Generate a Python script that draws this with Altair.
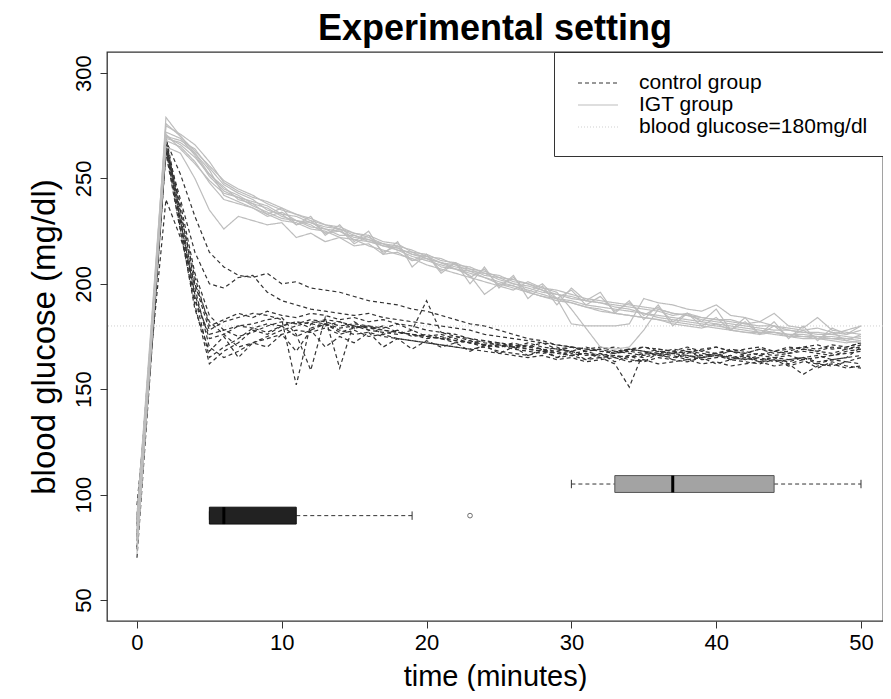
import altair as alt
import pandas as pd

# ---------------- data ----------------
minutes = list(range(0, 51))

control_series = [
    [85, 176, 268, 252, 232, 215, 208, 204, 203, 205,
     200, 201, 198, 197, 196, 194, 192, 191, 190, 188,
     187, 185, 183, 181, 180, 178, 176, 174, 173, 171,
     170, 169, 170, 168, 169, 170, 168, 167, 169, 168,
     170, 168, 167, 169, 168, 170, 169, 168, 170, 169,
     171],
    [80, 172, 265, 240, 215, 200, 198, 203, 204, 196,
     192, 190, 188, 187, 186, 185, 186, 184, 183, 182,
     181, 180, 179, 178, 176, 175, 174, 173, 172, 171,
     170, 169, 168, 168, 167, 166, 168, 167, 166, 165,
     166, 165, 164, 166, 165, 164, 165, 166, 164, 165,
     166],
    [75, 168, 262, 225, 190, 162, 168, 172, 178, 176,
     180, 182, 179, 181, 178, 176, 177, 175, 174, 173,
     172, 171, 170, 169, 170, 168, 167, 166, 168, 165,
     166, 164, 165, 166, 164, 163, 165, 164, 163, 165,
     162, 164, 163, 162, 164, 161, 163, 162, 161, 163,
     162],
    [90, 178, 270, 235, 200, 178, 182, 184, 186, 185,
     183, 152, 181, 183, 182, 180, 179, 178, 177, 176,
     175, 174, 173, 172, 170, 171, 169, 168, 167, 168,
     166, 167, 165, 166, 165, 167, 166, 165, 166, 164,
     165, 166, 164, 165, 163, 164, 165, 163, 164, 165,
     170],
    [78, 170, 266, 230, 195, 174, 176, 180, 181, 183,
     184, 176, 159, 184, 160, 182, 178, 180, 177, 176,
     174, 175, 173, 172, 171, 170, 171, 169, 168, 170,
     167, 168, 166, 167, 169, 168, 166, 167, 168, 166,
     167, 168, 166, 167, 166, 167, 168, 167, 166, 168,
     169],
    [95, 168, 240, 222, 200, 182, 176, 170, 172, 175,
     178, 180, 182, 181, 179, 180, 178, 177, 176, 178,
     175, 174, 172, 173, 171, 170, 172, 170, 169, 168,
     170, 168, 169, 167, 168, 170, 169, 168, 167, 169,
     170, 168, 169, 170, 168, 169, 170, 171, 169, 170,
     172],
    [82, 174, 267, 228, 192, 176, 178, 180, 179, 181,
     180, 182, 181, 180, 182, 179, 180, 178, 177, 176,
     175, 176, 174, 172, 173, 171, 170, 169, 168, 167,
     166, 167, 165, 162, 151, 168, 166, 167, 165, 166,
     167, 165, 166, 164, 165, 166, 164, 165, 166, 167,
     168],
    [70, 166, 263, 238, 205, 185, 178, 175, 177, 180,
     182, 181, 183, 182, 180, 181, 180, 179, 181, 178,
     192, 177, 176, 174, 173, 172, 171, 170, 172, 169,
     170, 168, 169, 170, 168, 167, 169, 168, 170, 168,
     167, 169, 168, 166, 168, 167, 169, 168, 167, 169,
     170],
    [86, 176, 269, 232, 198, 170, 165, 168, 172, 174,
     176, 178, 177, 179, 176, 178, 175, 176, 174, 173,
     172, 171, 170, 169, 168, 167, 166, 165, 166, 164,
     165, 163, 164, 165, 163, 164, 162, 163, 164, 162,
     163, 161, 162, 163, 161, 162, 157, 161, 162, 160,
     161],
    [80, 172, 264, 226, 188, 168, 175, 165, 172, 170,
     176, 168, 178, 170, 175, 172, 177, 170, 174, 169,
     173, 170, 172, 168, 171, 167, 170, 166, 169, 165,
     168, 164, 167, 163, 166, 163, 167, 164, 168, 165,
     167, 164, 166, 163, 165, 162, 164, 160, 163, 161,
     160],
    [88, 177, 266, 234, 203, 180, 183, 186, 184, 187,
     185, 184, 186, 185, 183, 184, 182, 183, 181, 180,
     178, 177, 175, 174, 172, 171, 170, 172, 170, 169,
     168, 170, 168, 167, 169, 168, 167, 169, 168, 167,
     166, 168, 167, 169, 167, 168, 170, 169, 171, 170,
     172],
    [74, 169, 263, 230, 194, 165, 170, 174, 179, 177,
     180, 175, 178, 181, 177, 179, 180, 176, 178, 175,
     176, 174, 175, 173, 171, 172, 170, 171, 169, 167,
     168, 166, 167, 165, 166, 165, 167, 166, 164, 165,
     166, 164, 165, 163, 164, 163, 165, 162, 164, 163,
     165],
]

igt_series = [
    [78, 176, 279, 270, 262, 252, 245, 242, 238, 236,
     232, 230, 229, 226, 225, 222, 221, 218, 217, 214,
     213, 210, 208, 207, 204, 203, 200, 199, 197, 195,
     194, 192, 191, 190, 189, 188, 187, 185, 186, 184,
     183, 182, 181, 182, 180, 179, 178, 179, 177, 176,
     178],
    [85, 178, 270, 268, 264, 255, 247, 243, 240, 235,
     233, 228, 230, 224, 226, 219, 223, 215, 218, 211,
     214, 206, 210, 203, 207, 199, 203, 196, 200, 193,
     197, 190, 194, 187, 191, 185, 189, 182, 186, 180,
     184, 178, 182, 176, 180, 175, 178, 174, 177, 173,
     176],
    [72, 170, 268, 265, 258, 248, 240, 238, 236, 233,
     230, 229, 226, 225, 222, 221, 218, 216, 214, 212,
     209, 207, 205, 203, 201, 199, 197, 201, 198, 196,
     188, 179, 170, 169, 170, 178, 188, 186, 185, 183,
     182, 181, 180, 179, 178, 178, 177, 176, 176, 175,
     174],
    [80, 172, 265, 262, 250, 235, 226, 232, 230, 228,
     229, 222, 224, 220, 222, 218, 219, 214, 215, 211,
     212, 208, 207, 205, 203, 200, 199, 196, 194, 193,
     191, 189, 188, 186, 185, 184, 183, 182, 181, 180,
     179, 178, 177, 177, 176, 175, 175, 174, 174, 173,
     172],
    [88, 180, 275, 271, 266, 258, 248, 244, 241, 239,
     236, 233, 231, 228, 227, 224, 223, 220, 219, 215,
     214, 211, 210, 207, 206, 203, 202, 200, 198, 197,
     195, 193, 192, 191, 190, 189, 188, 186, 185, 184,
     183, 183, 181, 180, 180, 178, 177, 177, 176, 178,
     180],
    [82, 174, 270, 266, 260, 252, 246, 240, 238, 233,
     236, 228, 232, 223, 228, 220, 225, 214, 220, 208,
     214, 205, 210, 200, 208, 198, 204, 193, 199, 190,
     198, 192, 196, 186, 192, 183, 190, 180, 186, 182,
     188, 178, 184, 176, 182, 174, 180, 173, 179, 176,
     180],
    [76, 173, 272, 269, 261, 251, 244, 241, 237, 234,
     231, 230, 227, 226, 223, 223, 220, 219, 216, 215,
     212, 210, 209, 206, 205, 202, 200, 198, 196, 195,
     193, 192, 191, 189, 188, 186, 185, 184, 183, 182,
     181, 180, 179, 178, 177, 176, 176, 175, 175, 174,
     173],
    [90, 182, 276, 270, 263, 256, 249, 245, 242, 238,
     235, 233, 230, 228, 226, 224, 222, 219, 217, 214,
     212, 210, 207, 206, 203, 201, 199, 197, 195, 193,
     192, 190, 189, 188, 187, 186, 184, 183, 182, 181,
     180, 179, 178, 177, 177, 176, 175, 175, 174, 174,
     175],
    [79, 175, 269, 267, 262, 254, 242, 239, 236, 232,
     234, 230, 228, 224, 225, 221, 220, 218, 216, 213,
     211, 209, 207, 204, 195, 200, 198, 196, 194, 192,
     191, 189, 187, 186, 185, 184, 183, 181, 180, 179,
     181, 178, 177, 176, 177, 175, 174, 174, 173, 172,
     173],
    [84, 177, 271, 264, 257, 249, 243, 241, 239, 237,
     233, 232, 229, 227, 226, 223, 221, 219, 218, 216,
     213, 212, 209, 208, 205, 204, 201, 200, 197, 193,
     181, 180, 180, 180, 181, 193, 191, 190, 188, 187,
     190, 185, 184, 182, 186, 180, 179, 184, 178, 177,
     176],
]

group_names = ["control group", "IGT group", "blood glucose=180mg/dl"]
threshold = [180]

# boxplots of the time (minutes) to reach 180 mg/dl
box_groups = ["control", "IGT"]
box_at = [90, 105]
box_min = [5, 30]
box_q1 = [5, 33]
box_median = [6, 37]
box_q3 = [11, 44]
box_max = [19, 50]
outlier_time = [23]
outlier_at = [90]

x_ticks = [0, 10, 20, 30, 40, 50]
y_ticks = [50, 100, 150, 200, 250, 300]

# ---------------- tables ----------------
rows = []
for i, s in enumerate(control_series):
    assert len(s) == len(minutes)
    for t, v in zip(minutes, s):
        rows.append({"time": t, "glucose": v, "subject": f"c{i}", "group": group_names[0]})
for i, s in enumerate(igt_series):
    assert len(s) == len(minutes)
    for t, v in zip(minutes, s):
        rows.append({"time": t, "glucose": v, "subject": f"i{i}", "group": group_names[1]})
lines_df = pd.DataFrame(rows)

thr_df = pd.DataFrame({"glucose": threshold, "group": [group_names[2]]})

box_df = pd.DataFrame({
    "group": box_groups, "at": box_at, "min": box_min, "q1": box_q1,
    "median": box_median, "q3": box_q3, "max": box_max,
})
out_df = pd.DataFrame({"time": outlier_time, "at": outlier_at})

# ---------------- scales / axes ----------------
FONT = "Liberation Sans"
x_scale = alt.Scale(domain=[-2.07, 51.52], nice=False, zero=False)
y_scale = alt.Scale(domain=[40, 310], nice=False, zero=False)

x_axis = alt.Axis(
    values=x_ticks, title="time (minutes)", grid=False, domain=False,
    tickSize=7, tickColor="#333", tickWidth=1, labelFontSize=22, labelColor="black",
    labelPadding=4, titleFontSize=29, titleFontWeight="normal", titleColor="black",
    titlePadding=9, labelFont=FONT, titleFont=FONT,
)
y_axis = alt.Axis(
    values=y_ticks, title="blood glucose (mg/dl)", grid=False, domain=False,
    tickSize=7, tickColor="#333", tickWidth=1, labelFontSize=22, labelColor="black",
    labelAngle=270, labelAlign="center", labelBaseline="bottom", labelPadding=5,
    titleFontSize=33, titleFontWeight="normal", titleColor="black", titlePadding=11,
    labelFont=FONT, titleFont=FONT,
)

# stroke-like legend symbol, 40 px long for a symbol size of 484 (radius 11)
legend = alt.Legend(
    title=None, orient="none", legendX=447, legendY=0,
    symbolType="M-1.818,0H1.818", symbolSize=484, symbolStrokeWidth=1.2,
    symbolOffset=13,
    labelFontSize=21, labelFont=FONT, labelColor="black", labelOffset=29,
    labelLimit=400, padding=19, rowPadding=0,
    strokeColor="#333", fillColor="white",
)
color_scale = alt.Scale(domain=group_names, range=["#333333", "#bdbdbd", "#cfcfcf"])
dash_scale = alt.Scale(domain=group_names, range=[[4, 3], [1, 0], [1, 2]])

X = lambda f: alt.X(f, type="quantitative", scale=x_scale, axis=x_axis)
Y = lambda f: alt.Y(f, type="quantitative", scale=y_scale, axis=y_axis)

lines = alt.Chart(lines_df).mark_line(strokeWidth=1.2).encode(
    x=X("time"),
    y=Y("glucose"),
    color=alt.Color("group:N", scale=color_scale, legend=legend),
    strokeDash=alt.StrokeDash("group:N", scale=dash_scale, legend=legend),
    detail="subject:N",
)

thr = alt.Chart(thr_df).mark_rule(strokeWidth=1).encode(
    y=Y("glucose"),
    color=alt.Color("group:N", scale=color_scale, legend=legend),
    strokeDash=alt.StrokeDash("group:N", scale=dash_scale, legend=legend),
)

box_base = alt.Chart(box_df).transform_calculate(
    lo="datum.at - 4", hi="datum.at + 4", slo="datum.at - 2", shi="datum.at + 2"
)

whisk_hi = box_base.mark_rule(color="#333", strokeDash=[4, 3], strokeWidth=1).encode(
    x=X("q3"), x2="max", y=Y("at"))
whisk_lo = box_base.mark_rule(color="#333", strokeDash=[4, 3], strokeWidth=1).encode(
    x=X("min"), x2="q1", y=Y("at"))
staple_hi = box_base.mark_rule(color="#333", strokeWidth=1).encode(
    x=X("max"), y=Y("slo"), y2="shi")
staple_lo = box_base.mark_rule(color="#333", strokeWidth=1).encode(
    x=X("min"), y=Y("slo"), y2="shi")
boxes = box_base.mark_rect(strokeWidth=1).encode(
    x=X("q1"), x2="q3", y=Y("lo"), y2="hi",
    fill=alt.condition("datum.group == 'control'", alt.value("#222222"), alt.value("#a3a3a3")),
    stroke=alt.condition("datum.group == 'control'", alt.value("#111111"), alt.value("#555555")),
)
medians = box_base.mark_rule(color="black", strokeWidth=3).encode(
    x=X("median"), y=Y("lo"), y2="hi")
outliers = alt.Chart(out_df).mark_point(shape="circle", filled=False, size=22,
                                        color="#333", strokeWidth=1).encode(
    x=X("time"), y=Y("at"))

chart = alt.layer(
    thr, lines, whisk_lo, whisk_hi, staple_lo, staple_hi, boxes, medians, outliers
).properties(
    width=776, height=569,
    title=alt.TitleParams("Experimental setting", fontSize=36, fontWeight="bold",
                          font=FONT, anchor="middle", offset=4, color="black"),
    autosize=alt.AutoSizeParams(type="none"),
    padding={"left": 99, "top": 44, "right": 0, "bottom": 70},
).configure(font=FONT).configure_view(stroke="#333", strokeWidth=1.3)

chart.save("out.html", embed_options={"renderer": "svg", "actions": False})
